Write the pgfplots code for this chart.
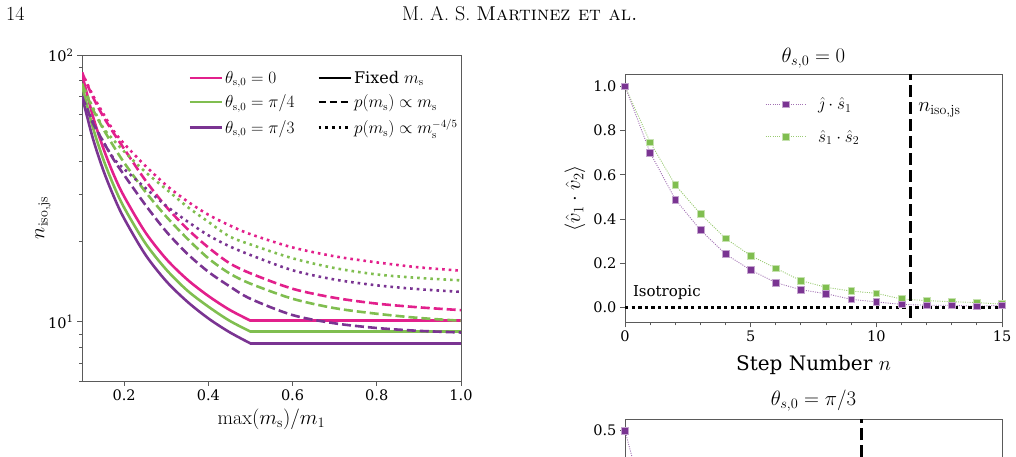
\documentclass[border=0pt]{standalone}
\usepackage{fontspec}
\usepackage{pgfplots}
\usepackage{pgfplotstable}
\pgfplotsset{compat=1.18}
\newfontfamily\dvs{DejaVu Serif}

\definecolor{cpink}{RGB}{226,32,140}
\definecolor{cgreen}{RGB}{128,190,80}
\definecolor{cpurple}{RGB}{122,52,146}
\definecolor{spine}{RGB}{90,90,90}

% n_iso,js with a fixed m_s (constant beyond max(m_s)/m_1 = 0.5)
\pgfplotstableread{
x     pink  green  purple
0.100 85.0  77.0   70.1
0.125 59.6  54.1   49.2
0.150 45.0  40.9   37.2
0.175 35.7  32.5   29.6
0.200 29.5  26.8   24.4
0.250 21.7  19.75  17.9
0.300 17.2  15.7   14.2
0.350 14.4  13.1   11.9
0.400 12.5  11.4   10.3
0.450 11.1  10.1   9.15
0.500 10.1  9.19   8.30
}\fixedms
\pgfplotstableread{
x   pink green purple
0.5 10.1 9.19  8.30
1.0 10.1 9.19  8.30
}\fixedflat
% p(m_s) proportional to m_s
\pgfplotstableread{
x     pink  green  purple
0.100 86.0  78.0   70.0
0.125 70.0  63.0   56.0
0.150 59.0  53.0   47.5
0.175 51.0  45.5   40.6
0.200 44.5  39.5   35.5
0.250 34.0  30.8   27.5
0.300 27.0  24.8   21.8
0.350 22.3  20.5   18.0
0.400 19.0  17.3   15.4
0.450 16.6  15.2   13.6
0.500 15.2  13.9   12.2
0.600 13.3  12.2   10.6
0.700 12.3  11.25  9.87
0.800 11.7  10.72  9.48
0.900 11.33 10.34  9.25
1.000 11.06 10.09  9.12
}\linms
% p(m_s) proportional to m_s^{-4/5}
\pgfplotstableread{
x     pink  green  purple
0.100 86.0  78.0   70.0
0.125 71.0  64.0   56.5
0.150 60.5  53.5   47.5
0.175 52.0  48.0   41.0
0.200 46.5  43.5   37.4
0.250 38.5  36.5   31.8
0.300 32.5  31.4   27.2
0.350 28.3  27.0   23.8
0.400 25.2  23.7   21.1
0.450 23.0  20.9   19.2
0.500 21.3  19.5   17.8
0.600 19.0  17.3   15.6
0.700 17.6  15.9   14.4
0.800 16.7  15.05  13.7
0.900 16.0  14.6   13.25
1.000 15.55 14.3   12.95
}\powms
% mean alignment per step, theta_s0 = 0
\pgfplotstableread{
n  js    ss
0  1.000 1.000
1  0.700 0.747
2  0.489 0.554
3  0.351 0.424
4  0.242 0.313
5  0.170 0.235
6  0.113 0.178
7  0.081 0.122
8  0.063 0.092
9  0.038 0.075
10 0.026 0.065
11 0.015 0.039
12 0.011 0.032
13 0.011 0.027
14 0.006 0.023
15 0.011 0.016
}\alignzero
% mean alignment per step, theta_s0 = pi/3
\pgfplotstableread{
n  js    ss
0  0.500 0.250
1  0.290 0.180
2  0.180 0.125
3  0.115 0.090
4  0.075 0.065
5  0.050 0.048
6  0.034 0.036
7  0.024 0.028
8  0.016 0.022
9  0.011 0.018
10 0.008 0.015
11 0.006 0.012
12 0.005 0.010
13 0.004 0.009
14 0.004 0.008
15 0.003 0.007
}\alignthird

\pgfplotsset{
  mplaxis/.style={
    scale only axis,
    tick pos=left, tick align=outside,
    major tick length=5pt, minor tick length=3pt,
    axis line style={spine, line width=0.9pt},
    every tick/.style={spine, line width=0.9pt},
    tick label style={font=\fontsize{14.5}{16}\dvs},
    label style={font=\fontsize{20}{22}\selectfont},
  },
  curve/.style={line width=2.6pt, no marks},
  dashcurve/.style={curve, dash pattern=on 9pt off 4pt},
  dotcurve/.style={curve, dash pattern=on 2.6pt off 4pt},
  jsstyle/.style={cpurple!70!white, line width=0.9pt, dash pattern=on 1pt off 1.3pt,
    mark=square*, mark size=3.4pt,
    mark options={solid, fill=cpurple, draw=cpurple!45!white, line width=0.6pt}},
  ssstyle/.style={cgreen!80!white, line width=0.9pt, dash pattern=on 1pt off 1.3pt,
    mark=square*, mark size=3.4pt,
    mark options={solid, fill=cgreen, draw=cgreen!45!white, line width=0.6pt}},
  stepaxis/.style={
    mplaxis, width=377pt, height=248pt,
    xmin=0, xmax=15,
    xtick={0,5,10,15}, xticklabels={0,5,10,15},
    minor xtick={1,2,3,4,6,7,8,9,11,12,13,14},
    clip mode=global,
    title style={font=\fontsize{22}{24}\selectfont, at={(0.5,1)}, anchor=base, yshift=6pt},
  },
}

\begin{document}
\begin{tikzpicture}
% running head
\node[anchor=base west, inner sep=0pt] at (6pt,435pt)
  {\fontsize{20}{22}\selectfont 14};
\node[anchor=base west, inner sep=0pt] at (402pt,435pt)
  {\fontsize{20}{22}\selectfont M. A. S. \textsc{Martinez et al.}};

% ---------------- left: n_iso,js against the mass ratio
\begin{axis}[
  mplaxis,
  at={(82pt,75pt)}, anchor=south west,
  width=379pt, height=326pt,
  ymode=log, xmin=0.1, xmax=1.0, ymin=6, ymax=100,
  xtick={0.2,0.4,0.6,0.8,1.0}, xticklabels={0.2,0.4,0.6,0.8,1.0},
  ytick={10,100}, yticklabels={10\textsuperscript{1},10\textsuperscript{2}},
  minor ytick={6,7,8,9,20,30,40,50,60,70,80,90},
  xlabel={$\max(m_{\mathrm{s}})/m_1$},
  ylabel={$n_{\mathrm{iso,js}}$},
  xlabel style={at={(axis description cs:0.5,0)}, anchor=base, yshift=-43pt},
  ylabel style={at={(axis description cs:0,0.5)}, anchor=center, yshift=39pt},
  legend columns=2, legend cell align=left,
  legend style={at={(axis description cs:0.2805,0.957)}, anchor=north west,
    draw=none, fill=none, inner sep=0pt, row sep=6pt,
    font=\fontsize{16}{19}\dvs,
    /tikz/every even column/.append style={column sep=21pt}},
  legend image code/.code={\draw[#1] (0pt,0pt) -- (32pt,0pt);},
]
\addplot[curve, cpink,   smooth, forget plot] table[x=x, y=pink]   {\fixedms};
\addplot[curve, cpink,           forget plot] table[x=x, y=pink]   {\fixedflat};
\addplot[curve, cgreen,  smooth, forget plot] table[x=x, y=green]  {\fixedms};
\addplot[curve, cgreen,          forget plot] table[x=x, y=green]  {\fixedflat};
\addplot[curve, cpurple, smooth, forget plot] table[x=x, y=purple] {\fixedms};
\addplot[curve, cpurple,         forget plot] table[x=x, y=purple] {\fixedflat};

\addplot[dashcurve, cpink,   smooth, forget plot] table[x=x, y=pink]   {\linms};
\addplot[dashcurve, cgreen,  smooth, forget plot] table[x=x, y=green]  {\linms};
\addplot[dashcurve, cpurple, smooth, forget plot] table[x=x, y=purple] {\linms};

\addplot[dotcurve, cpink,   smooth, forget plot] table[x=x, y=pink]   {\powms};
\addplot[dotcurve, cgreen,  smooth, forget plot] table[x=x, y=green]  {\powms};
\addplot[dotcurve, cpurple, smooth, forget plot] table[x=x, y=purple] {\powms};

% legend, row by row: colour key | line-style key
\addlegendimage{cpink, line width=2.6pt}
\addlegendentry{$\theta_{\mathrm{s},0}=0$}
\addlegendimage{black, line width=2.6pt}
\addlegendentry{Fixed $m_{\mathrm{s}}$}
\addlegendimage{cgreen, line width=2.6pt}
\addlegendentry{$\theta_{\mathrm{s},0}=\pi/4$}
\addlegendimage{black, line width=2.6pt, dash pattern=on 7pt off 4pt}
\addlegendentry{$p(m_{\mathrm{s}})\propto m_{\mathrm{s}}$}
\addlegendimage{cpurple, line width=2.6pt}
\addlegendentry{$\theta_{\mathrm{s},0}=\pi/3$}
\addlegendimage{black, line width=2.6pt, dash pattern=on 2.6pt off 4pt}
\addlegendentry{$p(m_{\mathrm{s}})\propto m_{\mathrm{s}}^{-4/5}$}
\end{axis}

% ---------------- right, top: theta_s0 = 0
\begin{axis}[
  stepaxis,
  at={(625pt,133.7pt)}, anchor=south west,
  ymin=-0.066, ymax=1.054,
  ytick={0,0.2,0.4,0.6,0.8,1.0},
  yticklabels={0.0,0.2,0.4,0.6,0.8,1.0},
  title={$\theta_{s,0}=0$},
  xlabel={\dvs Step Number $n$},
  ylabel={$\langle\hat{v}_1\cdot\hat{v}_2\rangle$},
  xlabel style={at={(axis description cs:0.5,0)}, anchor=base, yshift=-47.7pt},
  ylabel style={at={(axis description cs:0,0.5)}, anchor=center, yshift=50pt},
  legend cell align=left,
  legend style={at={(axis description cs:0.3714,0.915)}, anchor=north west,
    draw=none, fill=none, inner sep=0pt, row sep=15pt,
    font=\fontsize{17}{20}\selectfont,
    /tikz/every odd column/.append style={column sep=10pt}},
  legend image code/.code={\draw[mark repeat=2,mark phase=2,#1]
    plot coordinates {(0pt,0pt) (20pt,0pt) (40pt,0pt)};},
]
\addplot[ssstyle, forget plot] table[x=n, y=ss] {\alignzero};
\addplot[jsstyle, forget plot] table[x=n, y=js] {\alignzero};
\addplot[black, line width=2.8pt, dash pattern=on 3.3pt off 3.3pt, forget plot]
  coordinates {(0,0) (15,0)};
\addplot[black, line width=3pt, dash pattern=on 12pt off 5pt, forget plot]
  coordinates {(11.34,-0.2) (11.34,1.2)};
\addlegendimage{jsstyle}
\addlegendentry{$\hat{\jmath}\cdot\hat{s}_1$}
\addlegendimage{ssstyle}
\addlegendentry{$\hat{s}_1\cdot\hat{s}_2$}
\node[anchor=base west, inner sep=0pt, font=\fontsize{15}{17}\dvs]
  at (axis cs:0.31,0.05) {Isotropic};
\node[anchor=base west, inner sep=0pt, font=\fontsize{20}{22}\selectfont]
  at (axis cs:11.66,0.885) {$n_{\mathrm{iso,js}}$};
\end{axis}

% ---------------- right, bottom: theta_s0 = pi/3
\begin{axis}[
  stepaxis,
  at={(625pt,-211.3pt)}, anchor=south west,
  ymin=-0.025, ymax=0.525,
  ytick={0,0.1,0.2,0.3,0.4,0.5},
  yticklabels={0.0,0.1,0.2,0.3,0.4,0.5},
  title={$\theta_{s,0}=\pi/3$},
  title style={yshift=1.5pt},
]
\addplot[ssstyle] table[x=n, y=ss] {\alignthird};
\addplot[jsstyle] table[x=n, y=js] {\alignthird};
\addplot[black, line width=2.8pt, dash pattern=on 3.3pt off 3.3pt]
  coordinates {(0,0) (15,0)};
\addplot[black, line width=3pt, dash pattern=on 12pt off 5pt]
  coordinates {(9.39,-0.2) (9.39,0.7)};
\end{axis}

\pgfresetboundingbox
\useasboundingbox (0pt,0pt) rectangle (1016pt,456pt);
\end{tikzpicture}
\end{document}
